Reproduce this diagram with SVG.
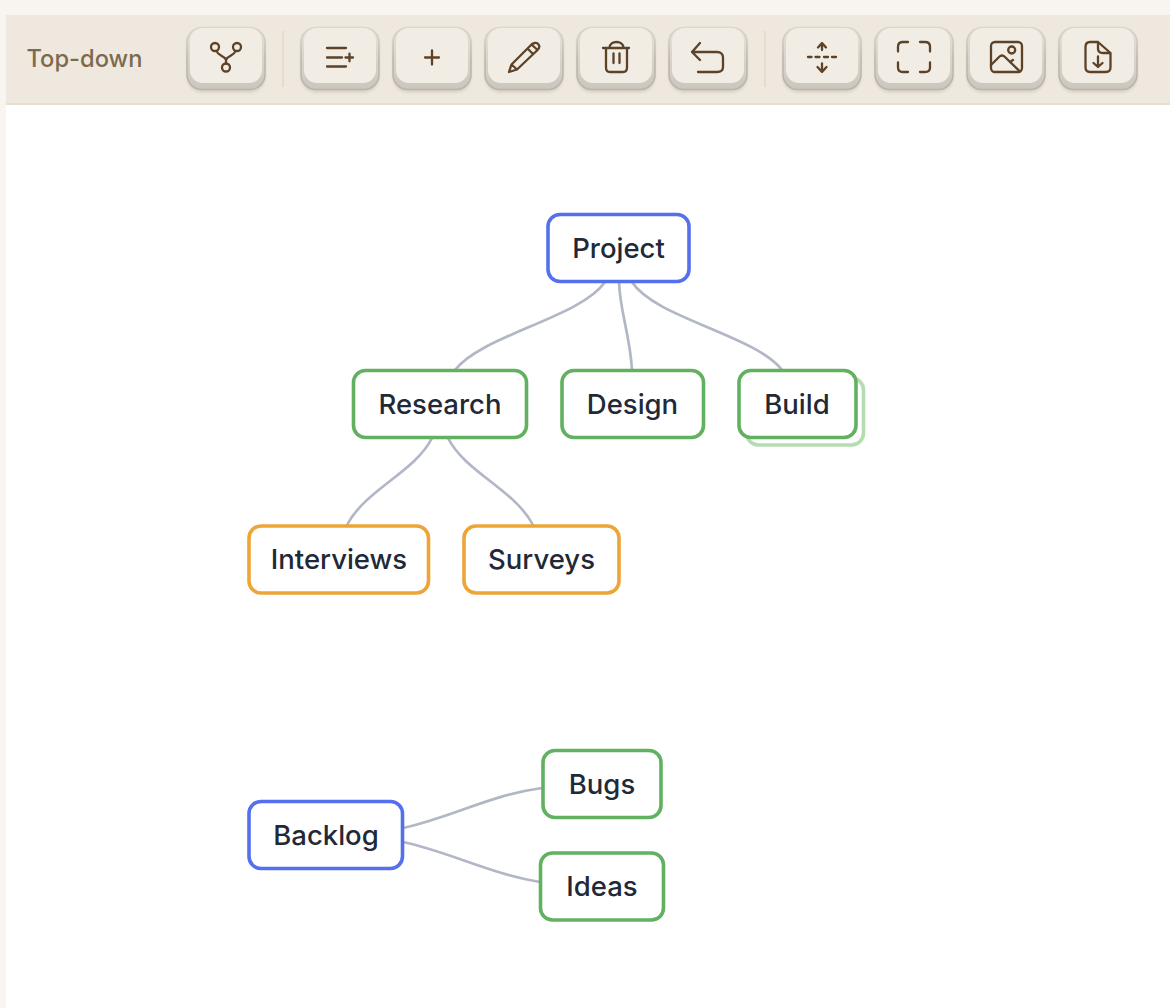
<svg xmlns="http://www.w3.org/2000/svg" width="1170" height="1008" viewBox="0 0 1170 1008">
<style>
text{font-family:Inter,"Noto Sans","Liberation Sans",sans-serif}
.lbl{font-size:27.500px;fill:#1f2937;text-anchor:middle;dominant-baseline:central;font-weight:450}
.n{fill:#fff;stroke-width:3.600}
.root{stroke:#5570ec}.mid{stroke:#62b160}.leaf{stroke:#eda536}
.e{fill:none;stroke:#b2b7c6;stroke-width:2.700}
.i{fill:none;stroke:#5c4227;stroke-width:2.300;stroke-linecap:round;stroke-linejoin:round}
.sep{stroke:#e4dccd;stroke-width:2}
</style>
<defs>
<filter id="sh" x="-20%" y="-20%" width="140%" height="140%"><feGaussianBlur stdDeviation="1.500"/></filter>
<linearGradient id="edge" x1="0" y1="0" x2="0" y2="1"><stop offset="0" stop-color="#e6e1d8"/><stop offset=".55" stop-color="#d8d3ca"/><stop offset=".85" stop-color="#d0cbc2"/><stop offset="1" stop-color="#cbc6bc"/></linearGradient>
<linearGradient id="rim" x1="0" y1="0" x2="0" y2="1"><stop offset="0" stop-color="#dcd7cd"/><stop offset=".5" stop-color="#bcb7ad"/><stop offset="1" stop-color="#b9b4aa"/></linearGradient>
<g id="btn">
<rect x="-39" y="-28" width="78" height="63" rx="15" fill="#7a6f5c" opacity=".2" filter="url(#sh)"/>
<rect x="-39" y="-30" width="78" height="62" rx="15" fill="url(#edge)" stroke="url(#rim)" stroke-width="1.500"/>
<rect x="-36" y="-29.500" width="72" height="55" rx="13" fill="#f1ece4"/>
</g>
</defs>
<rect width="1170" height="1008" fill="#fff"/>
<rect width="1170" height="15" fill="#f8f5f1"/>
<rect y="0" width="6" height="1008" fill="#f8f5f1"/>
<g id="toolbar">
<rect x="6" y="15" width="1164" height="89" fill="#efe8de"/>
<rect x="6" y="103" width="1164" height="2" fill="#e6dece"/>
<text x="26.500" y="67" font-size="23.700" fill="#7d6a4e" font-weight="450">Top-down</text>
<line class="sep" x1="283" y1="31" x2="283" y2="87"/>
<line class="sep" x1="765" y1="31" x2="765" y2="87"/>
</g>
<g id="btn-layout" transform="translate(226 57.500)"><use href="#btn"/><g class="i"><circle cx="-11" cy="-10.500" r="4"/><circle cx="11" cy="-10.500" r="4"/><circle cx="0" cy="10" r="4"/><path d="M-9.500 -6.500C-8 -2-3 -2.500 0 2C3 -2.500 8 -2 9.500 -6.500M0 2V6"/></g></g>
<g id="btn-addchild" transform="translate(340 57.500)"><use href="#btn"/><g class="i"><path d="M-13 -9.500H6M-13 0H2M-13 9H6M5.500 0H13M9.500 -3.800V3.800"/></g></g>
<g id="btn-add" transform="translate(432 57.500)"><use href="#btn"/><g class="i"><path d="M-7 0H7M0 -7V7"/></g></g>
<g id="btn-edit" transform="translate(524 57.500)"><use href="#btn"/><g class="i"><path d="M-15 14.500L-12.500 7L6 -11.500C9 -15 13 -15.500 14.500 -13C16 -11 15 -8.500 12.500 -6.500L-7 12L-15 14.500ZM3.500 -9L9 -3.500M-12.500 7L-7 12M7.500 -13L13 -8"/></g></g>
<g id="btn-delete" transform="translate(616 57.500)"><use href="#btn"/><g class="i"><path d="M-13 -9.500H13M-10 -9.500V10C-10 13-8.500 14.500-6 14.500H7C9.500 14.500 11 13 11 10V-9.500M-6.500 -9.500C-6.500 -17.500 7.500 -17.500 7.500 -9.500M-2.500 -4V5.500M3.500 -4V5.500"/></g></g>
<g id="btn-undo" transform="translate(708 57.500)"><use href="#btn"/><g class="i"><path d="M-8 -14.500L-16 -5.500L-8 2.500M-16 -5.500H9C13 -5.500 15 -3 15 0V9.500C15 12.500 13 14.500 9 14.500H-10"/></g></g>
<g id="btn-collapse" transform="translate(822 57.500)"><use href="#btn"/><g class="i"><path d="M-14 -0.500H-10.500M-6.500 -0.500H-2.500M2 -0.500H6M10 -0.500H14M0 -7.500V-14M-4 -10L0 -14.500L4 -10M0 6V14M-4.500 9.500L0 14.500L4.500 9.500"/></g></g>
<g id="btn-fit" transform="translate(914 57.500)"><use href="#btn"/><g class="i"><path d="M-16 -6V-11C-16 -14-14 -15.500-11 -15.500H-6M6 -15.500H11C14 -15.500 16 -14 16 -11V-6M16 5V10C16 13 14 14.500 11 14.500H6M-6 14.500H-11C-14 14.500-16 13-16 10V5"/></g></g>
<g id="btn-image" transform="translate(1006 57.500)"><use href="#btn"/><g class="i"><rect x="-15" y="-15.500" width="31" height="30" rx="4"/><circle cx="5.700" cy="-7.500" r="3.500"/><path d="M-15 7.500L-7 -0.500C-5 -2.500-3 -2.500-1 -0.500L14 14M4 4.500L7 2.500"/></g></g>
<g id="btn-export" transform="translate(1098 57.500)"><use href="#btn"/><g class="i"><path d="M0 -15.500H-8C-11 -15.500-12.500 -13.500-12.500 -10.500V9.500C-12.500 12.500-11 14.500-8 14.500H8C11 14.500 12.500 12.500 12.500 9.500V-4.500ZM0 -15.500V-9C0 -6 2 -4.500 5 -4.500H12.500M0 -1V9.500M-4.500 5.500L0 9.500L4.500 5.500"/></g></g>
<g id="connectors">
<path class="e" d="M605 282C580 318 482 335 455 370"/>
<path class="e" d="M619 282C620 312 630 335 632 370"/>
<path class="e" d="M632 282C655 318 755 335 782 370"/>
<path class="e" d="M432 438C415 472 365 490 347 525"/>
<path class="e" d="M448 438C465 472 515 490 533 525"/>
<path class="e" d="M403 828C450 818 490 795 542 788"/>
<path class="e" d="M403 842C450 852 490 874 540 882"/>
</g>
<g id="n-project"><rect class="n root" x="548" y="214.500" width="141" height="67" rx="12"/><text class="lbl" x="618.500" y="248">Project</text></g>
<g id="n-research"><rect class="n mid" x="353.500" y="370.500" width="173" height="67" rx="12"/><text class="lbl" x="440" y="404">Research</text></g>
<g id="n-design"><rect class="n mid" x="562" y="370.500" width="141.500" height="67" rx="12"/><text class="lbl" x="632.500" y="404">Design</text></g>
<g id="n-build"><rect x="746.500" y="378" width="117" height="67" rx="12" fill="#fff" stroke="#b5dcb3" stroke-width="3.600"/><rect class="n mid" x="739" y="370.500" width="117" height="67" rx="12"/><text class="lbl" x="797" y="404">Build</text></g>
<g id="n-interviews"><rect class="n leaf" x="249" y="526" width="179.500" height="67" rx="12"/><text class="lbl" x="339" y="559">Interviews</text></g>
<g id="n-surveys"><rect class="n leaf" x="464" y="526" width="155" height="67" rx="12"/><text class="lbl" x="541.500" y="559">Surveys</text></g>
<g id="n-backlog"><rect class="n root" x="249" y="801.500" width="153.500" height="67" rx="12"/><text class="lbl" x="326" y="835">Backlog</text></g>
<g id="n-bugs"><rect class="n mid" x="543" y="750.500" width="118" height="67" rx="12"/><text class="lbl" x="602" y="784">Bugs</text></g>
<g id="n-ideas"><rect class="n mid" x="540.500" y="853" width="123" height="67" rx="12"/><text class="lbl" x="602" y="886">Ideas</text></g>
</svg>
